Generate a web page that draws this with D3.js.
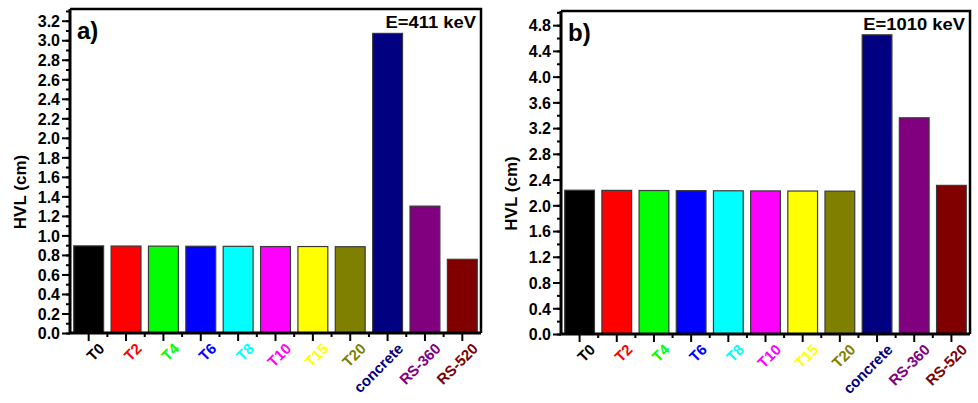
<!DOCTYPE html>
<html>
<head>
<meta charset="utf-8">
<script src="https://cdn.jsdelivr.net/npm/d3@7"></script>
<style>
  body { margin: 0; background: #fff; }
  svg text { font-family: "Liberation Sans", Arial, sans-serif; font-weight: bold; }
</style>
</head>
<body>
<div id="chart"></div>
<script>
// ######### DATA ###########
var categories = ["T0", "T2", "T4", "T6", "T8", "T10", "T15", "T20", "concrete", "RS-360", "RS-520"];
var barColors = ["#000000", "#ff0000", "#00ff00", "#0000ff", "#00ffff", "#ff00ff",
                 "#ffff00", "#808000", "#000080", "#800080", "#800000"];
// HVL (cm) at 411 keV
var hvl411 = [0.893, 0.891, 0.890, 0.889, 0.888, 0.886, 0.886, 0.884, 3.07, 1.30, 0.755];
// HVL (cm) at 1010 keV
var hvl1010 = [2.235, 2.232, 2.230, 2.228, 2.226, 2.224, 2.222, 2.220, 4.65, 3.36, 2.31];
var ticks411 = [0.0, 0.2, 0.4, 0.6, 0.8, 1.0, 1.2, 1.4, 1.6, 1.8, 2.0, 2.2, 2.4, 2.6, 2.8, 3.0, 3.2];
var ticks1010 = [0.0, 0.4, 0.8, 1.2, 1.6, 2.0, 2.4, 2.8, 3.2, 3.6, 4.0, 4.4, 4.8];

var width = 978, height = 403;
var svg = d3.select("#chart").append("svg")
    .attr("width", width)
    .attr("height", height);

function drawPanel(opt) {
    var g = svg.append("g");

    var x = d3.scaleBand()
        .domain(categories)
        .range([opt.left, opt.right])
        .paddingInner(0.2)
        .paddingOuter(0.1);

    var y = d3.scaleLinear()
        .domain([0, opt.yMax])
        .range([opt.bottom, opt.top]);

    // bars
    g.selectAll("rect.bar")
        .data(opt.values)
        .enter().append("rect")
        .attr("class", "bar")
        .attr("x", function(d, i) { return x(categories[i]); })
        .attr("width", x.bandwidth())
        .attr("y", function(d) { return y(d); })
        .attr("height", function(d) { return y(0) - y(d); })
        .attr("fill", function(d, i) { return barColors[i]; })
        .attr("stroke", "#3a3a3a")
        .attr("stroke-width", 1.2);

    // frame (top + right)
    g.append("path")
        .attr("d", "M" + opt.left + "," + opt.top + "H" + opt.right + "V" + opt.bottom)
        .attr("fill", "none")
        .attr("stroke", "#000")
        .attr("stroke-width", 2.5);

    // y minor ticks
    var minor = d3.range(0, opt.yMax, opt.minorStep);
    g.append("g")
        .attr("transform", "translate(" + opt.left + ",0)")
        .call(d3.axisLeft(y).tickValues(minor).tickSize(4).tickFormat(""))
        .call(function(s) { s.select(".domain").remove(); })
        .selectAll("line").attr("stroke-width", 2);

    // y major ticks
    var yAxis = g.append("g")
        .attr("transform", "translate(" + opt.left + ",0)")
        .call(d3.axisLeft(y).tickValues(opt.ticks).tickSize(8).tickPadding(2).tickFormat(d3.format(".1f")));
    yAxis.select(".domain").remove();
    yAxis.selectAll("line").attr("stroke-width", 2);
    yAxis.selectAll("text")
        .style("font-size", "16px")
        .attr("fill", "#000")
        .attr("dy", "0.36em")
        .style("font-family", "'Liberation Sans', Arial, sans-serif")
        .style("font-weight", "bold");

    // x ticks: major at centres, minor at boundaries
    var centres = categories.map(function(c) { return x(c) + x.bandwidth() / 2; });
    var bounds = d3.range(1, categories.length).map(function(i) {
        return (centres[i - 1] + centres[i]) / 2;
    });
    g.selectAll("line.xminor")
        .data(bounds)
        .enter().append("line")
        .attr("x1", function(d) { return d; }).attr("x2", function(d) { return d; })
        .attr("y1", opt.bottom).attr("y2", opt.bottom + 4)
        .attr("stroke", "#000").attr("stroke-width", 2);
    g.selectAll("line.xmajor")
        .data(centres)
        .enter().append("line")
        .attr("x1", function(d) { return d; }).attr("x2", function(d) { return d; })
        .attr("y1", opt.bottom).attr("y2", opt.bottom + 8)
        .attr("stroke", "#000").attr("stroke-width", 2);

    // axis lines
    g.append("path")
        .attr("d", "M" + opt.left + "," + opt.top + "V" + opt.bottom + "H" + opt.right)
        .attr("fill", "none")
        .attr("stroke", "#000")
        .attr("stroke-width", 3);

    // x labels, rotated
    g.selectAll("text.xlab")
        .data(categories)
        .enter().append("text")
        .attr("class", "xlab")
        .attr("transform", function(d, i) {
            return "translate(" + (centres[i] + 9) + "," + (opt.bottom + 9) + ") rotate(-45)";
        })
        .attr("text-anchor", "end")
        .attr("dy", "0.72em")
        .style("font-size", "15px")
        .attr("fill", function(d, i) { return barColors[i]; })
        .text(function(d) { return d; });

    // y title
    g.append("text")
        .attr("transform", "translate(" + opt.titleX + "," + ((opt.top + opt.bottom) / 2 + 21) + ") rotate(-90)")
        .attr("text-anchor", "middle")
        .style("font-size", "17px")
        .text("HVL (cm)");

    // panel letter
    g.append("text")
        .attr("x", opt.left + 7)
        .attr("y", opt.top + 30)
        .style("font-size", "24px")
        .text(opt.letter);

    // energy label
    g.append("text")
        .attr("transform", "translate(" + (opt.right - 5) + "," + (opt.top + 19) + ") scale(1.15,1)")
        .attr("text-anchor", "end")
        .style("font-size", "16px")
        .text(opt.energy);
}

drawPanel({
    values: hvl411, ticks: ticks411, minorStep: 0.1, yMax: 3.32,
    left: 70, right: 481, top: 9, bottom: 333, titleX: 26,
    letter: "a)", energy: "E=411 keV"
});

drawPanel({
    values: hvl1010, ticks: ticks1010, minorStep: 0.2, yMax: 5.02,
    left: 561, right: 970, top: 11, bottom: 334, titleX: 517,
    letter: "b)", energy: "E=1010 keV"
});
</script>
</body>
</html>
